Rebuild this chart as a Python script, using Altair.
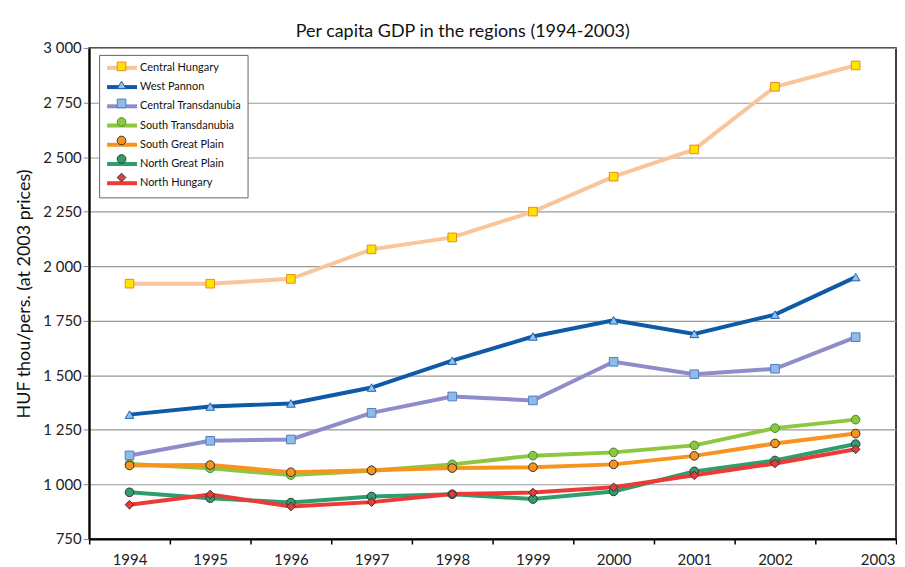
import altair as alt
import pandas as pd

years = list(range(1994, 2004))
regions = ["Central Hungary", "West Pannon", "Central Transdanubia", "South Transdanubia",
           "South Great Plain", "North Great Plain", "North Hungary"]
central_hungary = [1920, 1920, 1942, 2077, 2132, 2250, 2410, 2535, 2822, 2920]
west_pannon = [1320, 1357, 1371, 1444, 1567, 1678, 1752, 1690, 1778, 1950]
central_transdanubia = [1133, 1200, 1206, 1328, 1403, 1385, 1562, 1505, 1530, 1675]
south_transdanubia = [1094, 1074, 1043, 1063, 1092, 1132, 1147, 1179, 1258, 1297]
south_great_plain = [1087, 1089, 1056, 1065, 1075, 1079, 1092, 1131, 1188, 1233]
north_great_plain = [964, 937, 917, 945, 955, 933, 968, 1060, 1110, 1185]
north_hungary = [907, 954, 899, 919, 956, 963, 987, 1042, 1096, 1161]
series = [central_hungary, west_pannon, central_transdanubia, south_transdanubia,
          south_great_plain, north_great_plain, north_hungary]

line_colors = ["#F9C59A", "#0E5AA7", "#8F8DC9", "#8DC63F", "#F7941E", "#2E9E6E", "#EE3A36"]
marker_fill = ["#FFE400", "#8FC2EE", "#8FBBEB", "#8DC63F", "#F7941E", "#2E9E6E", "#EE3A36"]
marker_stroke = ["#E8891A", "#1E5FAA", "#4F7DC2", "#3E8E2E", "#333333", "#333333", "#333333"]
shapes = ["square", "triangle-up", "square", "circle", "circle", "circle", "diamond"]

# marker keys differ from line keys so that the two legends stay separate
markers = [r + " " for r in regions]

rows = []
for i, (r, m, vals) in enumerate(zip(regions, markers, series)):
    for y, v in zip(years, vals):
        rows.append({"region": r, "marker": m, "year": y, "xpos": y + 0.5, "gdp": v, "ord": i})
df = pd.DataFrame(rows)

FONT = "Lato"

x = alt.X("xpos:Q", scale=alt.Scale(domain=[1994, 2004], nice=False, zero=False),
          axis=alt.Axis(values=list(range(1994, 2005)), format="d", title=None,
                        labelExpr="datum.value < 2003 ? datum.label : (datum.value == 2004 ? '2003' : '')",
                        labelOffset={"condition": {"test": "datum.value == 2004", "value": -1}, "value": 40.5},
                        labelAlign={"condition": {"test": "datum.value == 2004", "value": "right"}, "value": "center"},
                        labelFlush=False, labelOverlap=False,
                        grid=False, tickColor="black", tickSize=5, tickWidth=1.5,
                        domainColor="black", domainWidth=2, labelFontSize=15, labelColor="#222",
                        labelPadding=9))
y = alt.Y("gdp:Q", scale=alt.Scale(domain=[750, 3000], nice=False, zero=False),
          axis=alt.Axis(values=list(range(750, 3001, 250)),
                        labelExpr="replace(format(datum.value, ','), ',', ' ')",
                        title="HUF thou/pers. (at 2003 prices)", titleFontSize=18,
                        titleFontWeight="normal", titleColor="#111", titlePadding=9,
                        grid=True, gridColor="#999999", gridWidth=1.2,
                        tickColor="#888888", tickSize=6, domainColor="black", domainWidth=2,
                        labelFontSize=15, labelColor="#222", labelPadding=2))

lines = alt.Chart(df).mark_line(strokeWidth=4).encode(
    x=x, y=y,
    color=alt.Color("region:N", scale=alt.Scale(domain=regions, range=line_colors),
                    legend=alt.Legend(orient="none", legendX=10, legendY=7, title=None,
                                      symbolType="M-3,0H3", symbolSize=100, symbolStrokeWidth=4,
                                      symbolOffset=10, labelFontSize=11, labelOffset=11,
                                      rowPadding=3.3, labelColor="#111",
                                      strokeColor="#666666", fillColor="white", padding=6)),
    order=alt.Order("year:Q"),
    detail="ord:O",
)

point_legend = alt.Legend(orient="none", legendX=21, legendY=7, title=None,
                          symbolSize=75, symbolStrokeWidth=1, labelFontSize=11,
                          labelExpr="' '", labelOffset=2, rowPadding=5.6, labelOpacity=0, padding=6)
points = alt.Chart(df).mark_point(filled=True, size=75, strokeWidth=1, opacity=1).encode(
    x=x, y=y,
    shape=alt.Shape("marker:N", scale=alt.Scale(domain=markers, range=shapes), legend=point_legend),
    fill=alt.Fill("marker:N", scale=alt.Scale(domain=markers, range=marker_fill), legend=point_legend),
    stroke=alt.Stroke("marker:N", scale=alt.Scale(domain=markers, range=marker_stroke), legend=point_legend),
)

chart = alt.layer(lines, points).properties(
    width=810, height=493,
    title=alt.Title("Per capita GDP in the regions (1994-2003)", fontSize=18, fontWeight="normal",
                    color="#111", offset=0, anchor="middle", dx=-30),
    padding={"left": 7.5, "top": 14, "right": 0, "bottom": 0},
).configure(font=FONT).configure_view(stroke="black", strokeWidth=1.5)

chart.save("out.html", embed_options={"renderer": "svg", "actions": False})
